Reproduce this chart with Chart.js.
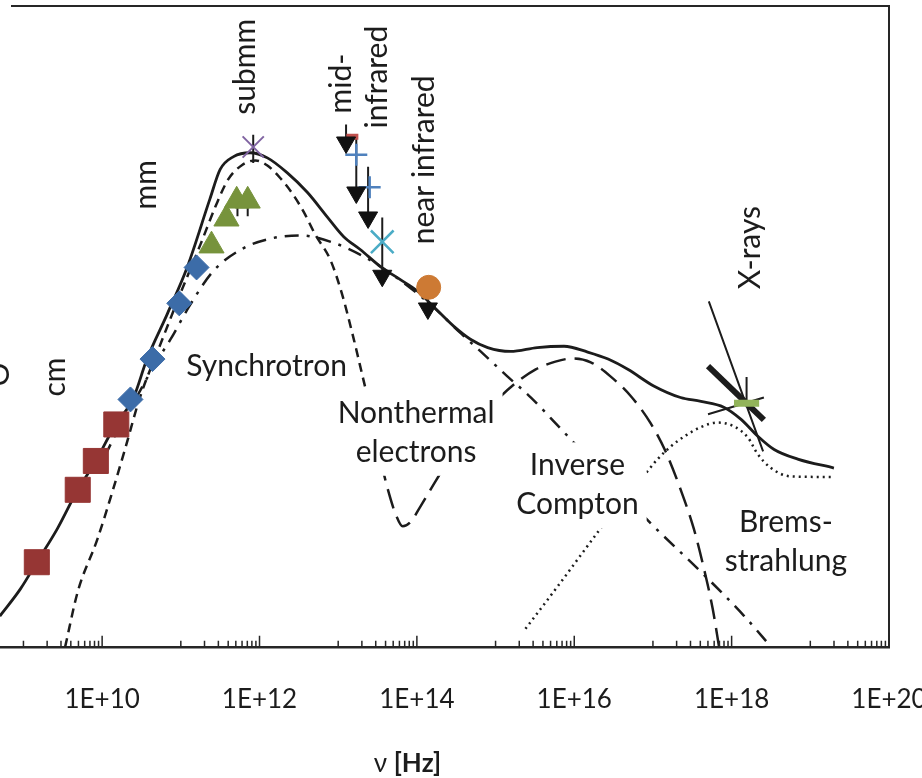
<!DOCTYPE html>
<html>
<head>
<meta charset="utf-8">
<script src="https://cdn.jsdelivr.net/npm/chart.js@4.4.1/dist/chart.umd.min.js"></script>
<style>
  html, body { margin: 0; padding: 0; background: #fff; }
</style>
</head>
<body>
<canvas id="sed" width="922" height="778"></canvas>
<script>
// All x values are log10(nu / Hz), all y values log10 of flux in arbitrary units,
// read off the figure.

// total model (solid)
const totalLogNu = [8.70, 8.96, 9.17, 9.43, 9.69, 9.92, 10.17, 10.39, 10.57, 10.83, 11.08, 11.37, 11.50, 11.67, 11.88,
  12.10, 12.35, 12.61, 12.86, 13.07, 13.28, 13.54, 13.79, 14.01, 14.21, 14.47, 14.68, 14.90, 15.19, 15.53,
  15.87, 16.17, 16.43, 16.68, 17.01, 17.35, 17.61, 17.90, 18.12, 18.33, 18.54, 18.84, 19.30];
const totalLogF = [0.48, 0.90, 1.32, 1.84, 2.45, 2.90, 3.47, 3.86, 4.49, 5.20, 5.92, 6.99, 7.45, 7.65, 7.71,
  7.63, 7.40, 7.09, 6.71, 6.40, 6.20, 5.93, 5.73, 5.55, 5.31, 5.00, 4.80, 4.67, 4.61, 4.67,
  4.69, 4.60, 4.49, 4.33, 4.07, 3.89, 3.83, 3.74, 3.55, 3.29, 3.08, 2.93, 2.79];

// synchrotron (short dashes)
const synLogNu = [9.53, 9.69, 9.94, 10.14, 10.29, 10.48, 10.74, 10.99, 11.25, 11.44, 11.60, 11.78, 11.95, 12.10,
  12.26, 12.42, 12.56, 12.71, 12.90, 13.05, 13.19, 13.32, 13.41];
const synLogF = [0, 0.86, 1.68, 2.46, 3.08, 3.89, 4.72, 5.50, 6.28, 6.87, 7.29, 7.52, 7.59, 7.51,
  7.32, 7.07, 6.79, 6.43, 6.04, 5.50, 4.84, 4.17, 3.71];

// nonthermal electrons (dash-dot)
const ntLogNu = [10.03, 10.14, 10.29, 10.48, 10.67, 10.87, 11.12, 11.41, 11.78, 12.14, 12.52, 12.93, 13.37,
  13.79, 14.21, 14.56, 14.81, 15.15, 15.45, 15.83, 16.34, 17.01, 17.61, 18.16, 18.50];
const ntLogF = [2.96, 3.24, 3.58, 3.99, 4.41, 4.80, 5.34, 5.86, 6.21, 6.37, 6.42, 6.31, 6.06,
  5.72, 5.30, 4.89, 4.61, 4.22, 3.89, 3.40, 2.74, 1.88, 1.17, 0.48, 0];

// inverse Compton (long dashes)
const icLogNu = [13.54, 13.63, 13.73, 13.82, 13.92, 14.05, 14.24, 14.49, 14.75, 15.00, 15.25, 15.51, 15.76,
  15.98, 16.21, 16.46, 16.72, 16.97, 17.16, 17.35, 17.52, 17.65, 17.76, 17.84];
const icLogF = [2.90, 2.46, 2.07, 1.88, 1.95, 2.20, 2.59, 3.08, 3.49, 3.83, 4.11, 4.33, 4.45,
  4.50, 4.44, 4.22, 3.91, 3.49, 3.05, 2.46, 1.84, 1.21, 0.59, 0];

// bremsstrahlung (dotted)
const brLogNu = [15.38, 15.83, 16.30, 16.65, 16.91, 17.06, 17.23, 17.42, 17.61, 17.82, 18.03, 18.21, 18.33, 18.50, 18.75, 19.30];
const brLogF = [0.28, 1.01, 1.79, 2.35, 2.71, 2.93, 3.13, 3.30, 3.43, 3.50, 3.44, 3.26, 3.01, 2.79, 2.66, 2.65];

// measurements
const cmLogNu = [9.17, 9.69, 9.92, 10.18];
const cmLogF = [1.32, 2.45, 2.90, 3.47];
const mmLogNu = [10.36, 10.64, 10.98, 11.20];
const mmLogF = [3.86, 4.49, 5.36, 5.92];
const submmLogNu = [11.39, 11.58, 11.71, 11.85];
const submmLogF = [6.26, 6.68, 6.96, 6.96];
const farLogNu = [11.92];
const farLogF = [7.80];
const midLogNu = [13.23, 13.40];
const midLogF = [7.68, 7.17];
const midRedLogNu = [13.18];
const midRedLogF = [7.96];
const nirLogNu = [13.56];
const nirLogF = [6.32];
const kLogNu = [14.15];
const kLogF = [5.61];

// upper limits: arrow from top value down to tip
const ulLogNu = [13.10, 13.23, 13.38, 13.56, 14.14];
const ulTopF = [8.15, 7.94, 7.49, 6.70, 5.61];
const ulTipF = [7.87, 7.09, 6.70, 5.79, 5.28];

// small error bars (purple point, two submm triangles)
const errLogNu = [11.92, 11.72, 11.85];
const errLowF = [7.55, 6.72, 6.72];
const errHighF = [7.99, 6.88, 6.88];

// X-ray bow tie: thin lines, thick line, measured band
const bowLogNu1 = [17.71, 17.70, 18.19];
const bowLogNu2 = [18.40, 18.41, 18.19];
const bowF1 = [5.39, 3.63, 4.21];
const bowF2 = [3.05, 3.89, 3.74];
const bowThickLogNu = [17.70, 18.41];
const bowThickF = [4.38, 3.54];
const xrayLogNu = [18.03, 18.35];
const xrayF = [3.80, 3.80];

const majorTicks = [1e10, 1e12, 1e14, 1e16, 1e18, 1e20];

function pts(xs, ys) {
  return xs.map((v, i) => ({ x: Math.pow(10, v), y: ys[i] }));
}
// separate segments joined with gaps
function segs(xs1, ys1, xs2, ys2) {
  const out = [];
  xs1.forEach((v, i) => {
    out.push({ x: Math.pow(10, v), y: ys1[i] });
    out.push({ x: Math.pow(10, xs2[i]), y: ys2[i] });
    out.push({ x: Math.pow(10, xs2[i]), y: null });
  });
  return out;
}

const INK = '#1c1c1c';

function curve(data, dash, width) {
  return {
    data: data, showLine: true, borderColor: INK, borderWidth: width || 2.5,
    borderDash: dash, pointRadius: 0, cubicInterpolationMode: 'monotone', tension: 0.4, fill: false
  };
}
function marker(data, style, color, radius, extra) {
  return Object.assign({
    data: data, showLine: false, pointStyle: style, pointRadius: radius,
    backgroundColor: color, borderColor: color, borderWidth: 1
  }, extra || {});
}
function straight(data, width, color) {
  return { data: data, showLine: true, borderColor: color || INK, borderWidth: width, pointRadius: 0, spanGaps: false, tension: 0 };
}

const rotatedLabels = [
  { text: 'mm', nu: 10.56, f: 7.21 },
  { text: 'submm', nu: 11.82, f: 9.05 },
  { text: 'mid-', nu: 13.04, f: 8.79 },
  { text: 'infrared', nu: 13.50, f: 8.89 },
  { text: 'near infrared', nu: 14.10, f: 7.60 },
  { text: 'X-rays', nu: 18.24, f: 6.23 },
  { text: 'cm', nu: 9.40, f: 4.21 },
  { text: 'O', nu: 8.69, f: 4.25 }
];
const blockLabels = [
  { lines: ['Synchrotron'], nu: 12.09, f: 4.38 },
  { lines: ['Nonthermal', 'electrons'], nu: 13.99, f: 3.34 },
  { lines: ['Inverse', 'Compton'], nu: 16.04, f: 2.52 },
  { lines: ['Brems-', 'strahlung'], nu: 18.69, f: 1.64 }
];

const labelPlugin = {
  id: 'sedLabels',
  afterDatasetsDraw(chart) {
    const { ctx, scales: { x, y } } = chart;
    ctx.save();
    ctx.font = '30px Lato';
    ctx.fillStyle = INK;
    ctx.textAlign = 'center';
    ctx.textBaseline = 'middle';
    const lineGap = 39;
    blockLabels.forEach(l => {
      const cx = x.getPixelForValue(Math.pow(10, l.nu));
      const cy = y.getPixelForValue(l.f);
      const w = Math.max(...l.lines.map(t => ctx.measureText(t).width));
      const h = l.lines.length * lineGap;
      ctx.fillStyle = '#fff';
      ctx.fillRect(cx - w / 2 - 8, cy - h / 2 - 4, w + 16, h + 8);
      ctx.fillStyle = INK;
      l.lines.forEach((t, i) => {
        ctx.fillText(t, cx, cy - h / 2 + lineGap * (i + 0.5));
      });
    });
    rotatedLabels.forEach(l => {
      ctx.save();
      ctx.translate(x.getPixelForValue(Math.pow(10, l.nu)), y.getPixelForValue(l.f));
      ctx.rotate(-Math.PI / 2);
      ctx.fillText(l.text, 0, 0);
      ctx.restore();
    });
    ctx.restore();
  },
  afterDraw(chart) {
    const { ctx, chartArea: a, scales: { x } } = chart;
    ctx.save();
    ctx.strokeStyle = '#262626';
    ctx.lineWidth = 2;
    ctx.beginPath();
    ctx.moveTo(a.left + 11, a.top);
    ctx.lineTo(a.right, a.top);
    ctx.lineTo(a.right, a.bottom);
    ctx.stroke();

    // inward tick marks: major every 100x, minor at k * 10^odd
    ctx.lineWidth = 1.5;
    ctx.beginPath();
    const tick = (v, len) => {
      const px = x.getPixelForValue(v);
      if (px < a.left - 0.5 || px > a.right + 0.5) return;
      ctx.moveTo(px, a.bottom);
      ctx.lineTo(px, a.bottom - len);
    };
    for (let e = 8; e <= 20; e++) {
      if (e % 2 === 0) tick(Math.pow(10, e), 11);
      else for (let k = 1; k <= 9; k++) tick(k * Math.pow(10, e), 6);
    }
    ctx.stroke();

    // axis title
    const tx = x.getPixelForValue(Math.pow(10, 13.88));
    const ty = chart.height - 14;
    ctx.fillStyle = INK;
    ctx.textBaseline = 'middle';
    ctx.font = '26px Lato';
    const nuW = ctx.measureText('\u03bd ').width;
    ctx.font = 'bold 26px Lato';
    const hzW = ctx.measureText('[Hz]').width;
    const start = tx - (nuW + hzW) / 2;
    ctx.textAlign = 'left';
    ctx.font = '26px Lato';
    ctx.fillText('\u03bd ', start, ty);
    ctx.font = 'bold 26px Lato';
    ctx.fillText('[Hz]', start + nuW, ty);
    ctx.restore();
  }
};

Chart.defaults.font.family = 'Lato';
Chart.defaults.color = INK;

new Chart(document.getElementById('sed'), {
  type: 'scatter',
  data: {
    datasets: [
      marker(pts(xrayLogNu, xrayF), 'line', '#92B45A', 0, { showLine: true, borderWidth: 7, pointRadius: 0 }),
      marker(pts(kLogNu, kLogF), 'circle', '#CD7A34', 12),
      marker(pts(ulLogNu, ulTipF), 'triangle', '#111', 11, { rotation: 180 }),
      marker(pts(nirLogNu, nirLogF), 'crossRot', '#4BACC6', 16, { borderWidth: 2.5 }),
      marker(pts(midRedLogNu, midRedLogF), 'line', '#C0504D', 6, { borderWidth: 6 }),
      marker(pts(midLogNu, midLogF), 'cross', '#4F81BD', 11, { borderWidth: 2.5 }),
      marker(pts(farLogNu, farLogF), 'crossRot', '#8064A2', 15, { borderWidth: 2 }),
      marker(pts(submmLogNu, submmLogF), 'triangle', '#77933C', 14.5),
      marker(pts(mmLogNu, mmLogF), 'rectRot', '#3C6CA8', 12.5),
      marker(pts(cmLogNu, cmLogF), 'rect', '#963634', 17.7),
      straight(segs(ulLogNu, ulTopF, ulLogNu, ulTipF), 2),
      straight(segs(errLogNu, errLowF, errLogNu, errHighF), 2),
      straight(segs(bowLogNu1, bowF1, bowLogNu2, bowF2), 2),
      straight(pts(bowThickLogNu, bowThickF), 6),
      curve(pts(totalLogNu, totalLogF), [], 2.8),
      curve(pts(synLogNu, synLogF), [9, 6]),
      curve(pts(ntLogNu, ntLogF), [14, 8, 3, 8]),
      curve(pts(icLogNu, icLogF), [20, 9]),
      curve(pts(brLogNu, brLogF), [2, 4], 2.5)
    ]
  },
  options: {
    responsive: false,
    animation: false,
    layout: { autoPadding: false, padding: { left: 0, right: 33, top: 6, bottom: 26 } },
    plugins: { legend: { display: false }, tooltip: { enabled: false } },
    scales: {
      x: {
        type: 'logarithmic',
        min: Math.pow(10, 8.702),
        max: 1e20,
        afterBuildTicks: (scale) => { scale.ticks = majorTicks.map(v => ({ value: v })); },
        afterFit: (scale) => { scale.paddingLeft = 0; scale.paddingRight = 0; },
        grid: { display: false, drawTicks: false },
        border: { display: true, color: '#262626', width: 2.5 },
        ticks: {
          autoSkip: false,
          maxRotation: 0,
          padding: 37,
          font: { size: 26 },
          color: INK,
          callback: (v) => '1E+' + Math.round(Math.log10(v))
        }
      },
      y: { type: 'linear', display: false, min: 0, max: 10 }
    }
  },
  plugins: [labelPlugin]
});
</script>
</body>
</html>
